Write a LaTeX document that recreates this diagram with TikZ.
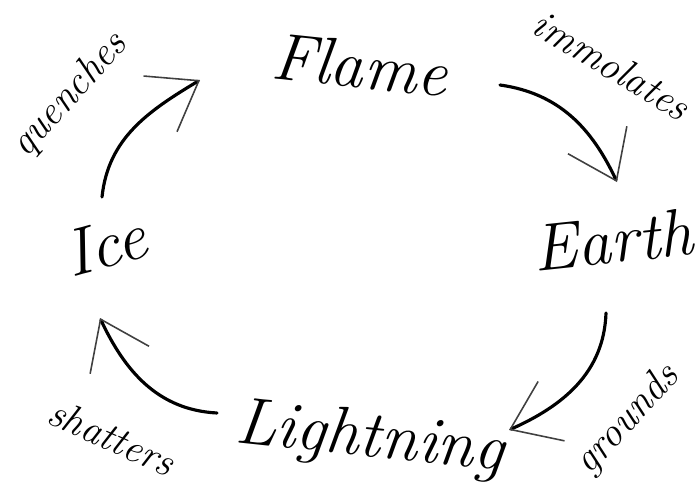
\documentclass[tikz,border=0pt]{standalone}
\usepackage{fontspec}
\usetikzlibrary{arrows.meta,calc}
\tikzset{
  element/.style={font=\fontsize{38}{40}\selectfont\itshape,inner sep=2pt},
  verb/.style={font=\fontsize{23}{25}\selectfont\itshape,inner sep=1pt},
  flow/.style={line width=1.8pt,line cap=round,
    -{Straight Barb[length=0.9cm,width=1.3cm,line width=0.9pt,color=black!75]}}
}
\begin{document}
\begin{tikzpicture}[x=0.02cm,y=0.02cm]
  \useasboundingbox (0,0) rectangle (697,495);
  % the four elements
  \node[element,rotate=-6] (flame) at (360,430) {Flame};
  \node[element,rotate=6] (earth) at (613,255) {Earth};
  \node[element,rotate=-6] (lightning) at (370,55) {Lightning};
  \node[element,rotate=15] (ice) at (105,250) {Ice};
  % what each one does
  \node[verb,rotate=48] (quenches) at (70,400) {quenches};
  \node[verb,rotate=-31] (immolates) at (612,430) {immolates};
  \node[verb,rotate=47] (grounds) at (628,75) {grounds};
  \node[verb,rotate=-24] (shatters) at (112,58) {shatters};
  % cycle
  \draw[flow] ($(ice)+(-3,48)$) to[out=84,in=211] ($(flame)+(-160,-15)$);
  \draw[flow] ($(flame)+(140,-20)$) to[out=-8,in=115] ($(earth)+(4,58)$);
  \draw[flow] ($(earth)+(-7,-73)$) to[out=-92,in=24] ($(lightning)+(139,10)$);
  \draw[flow] ($(lightning)+(-153,27)$) to[out=177,in=295] ($(ice)+(-5,-73)$);
\end{tikzpicture}
\end{document}
